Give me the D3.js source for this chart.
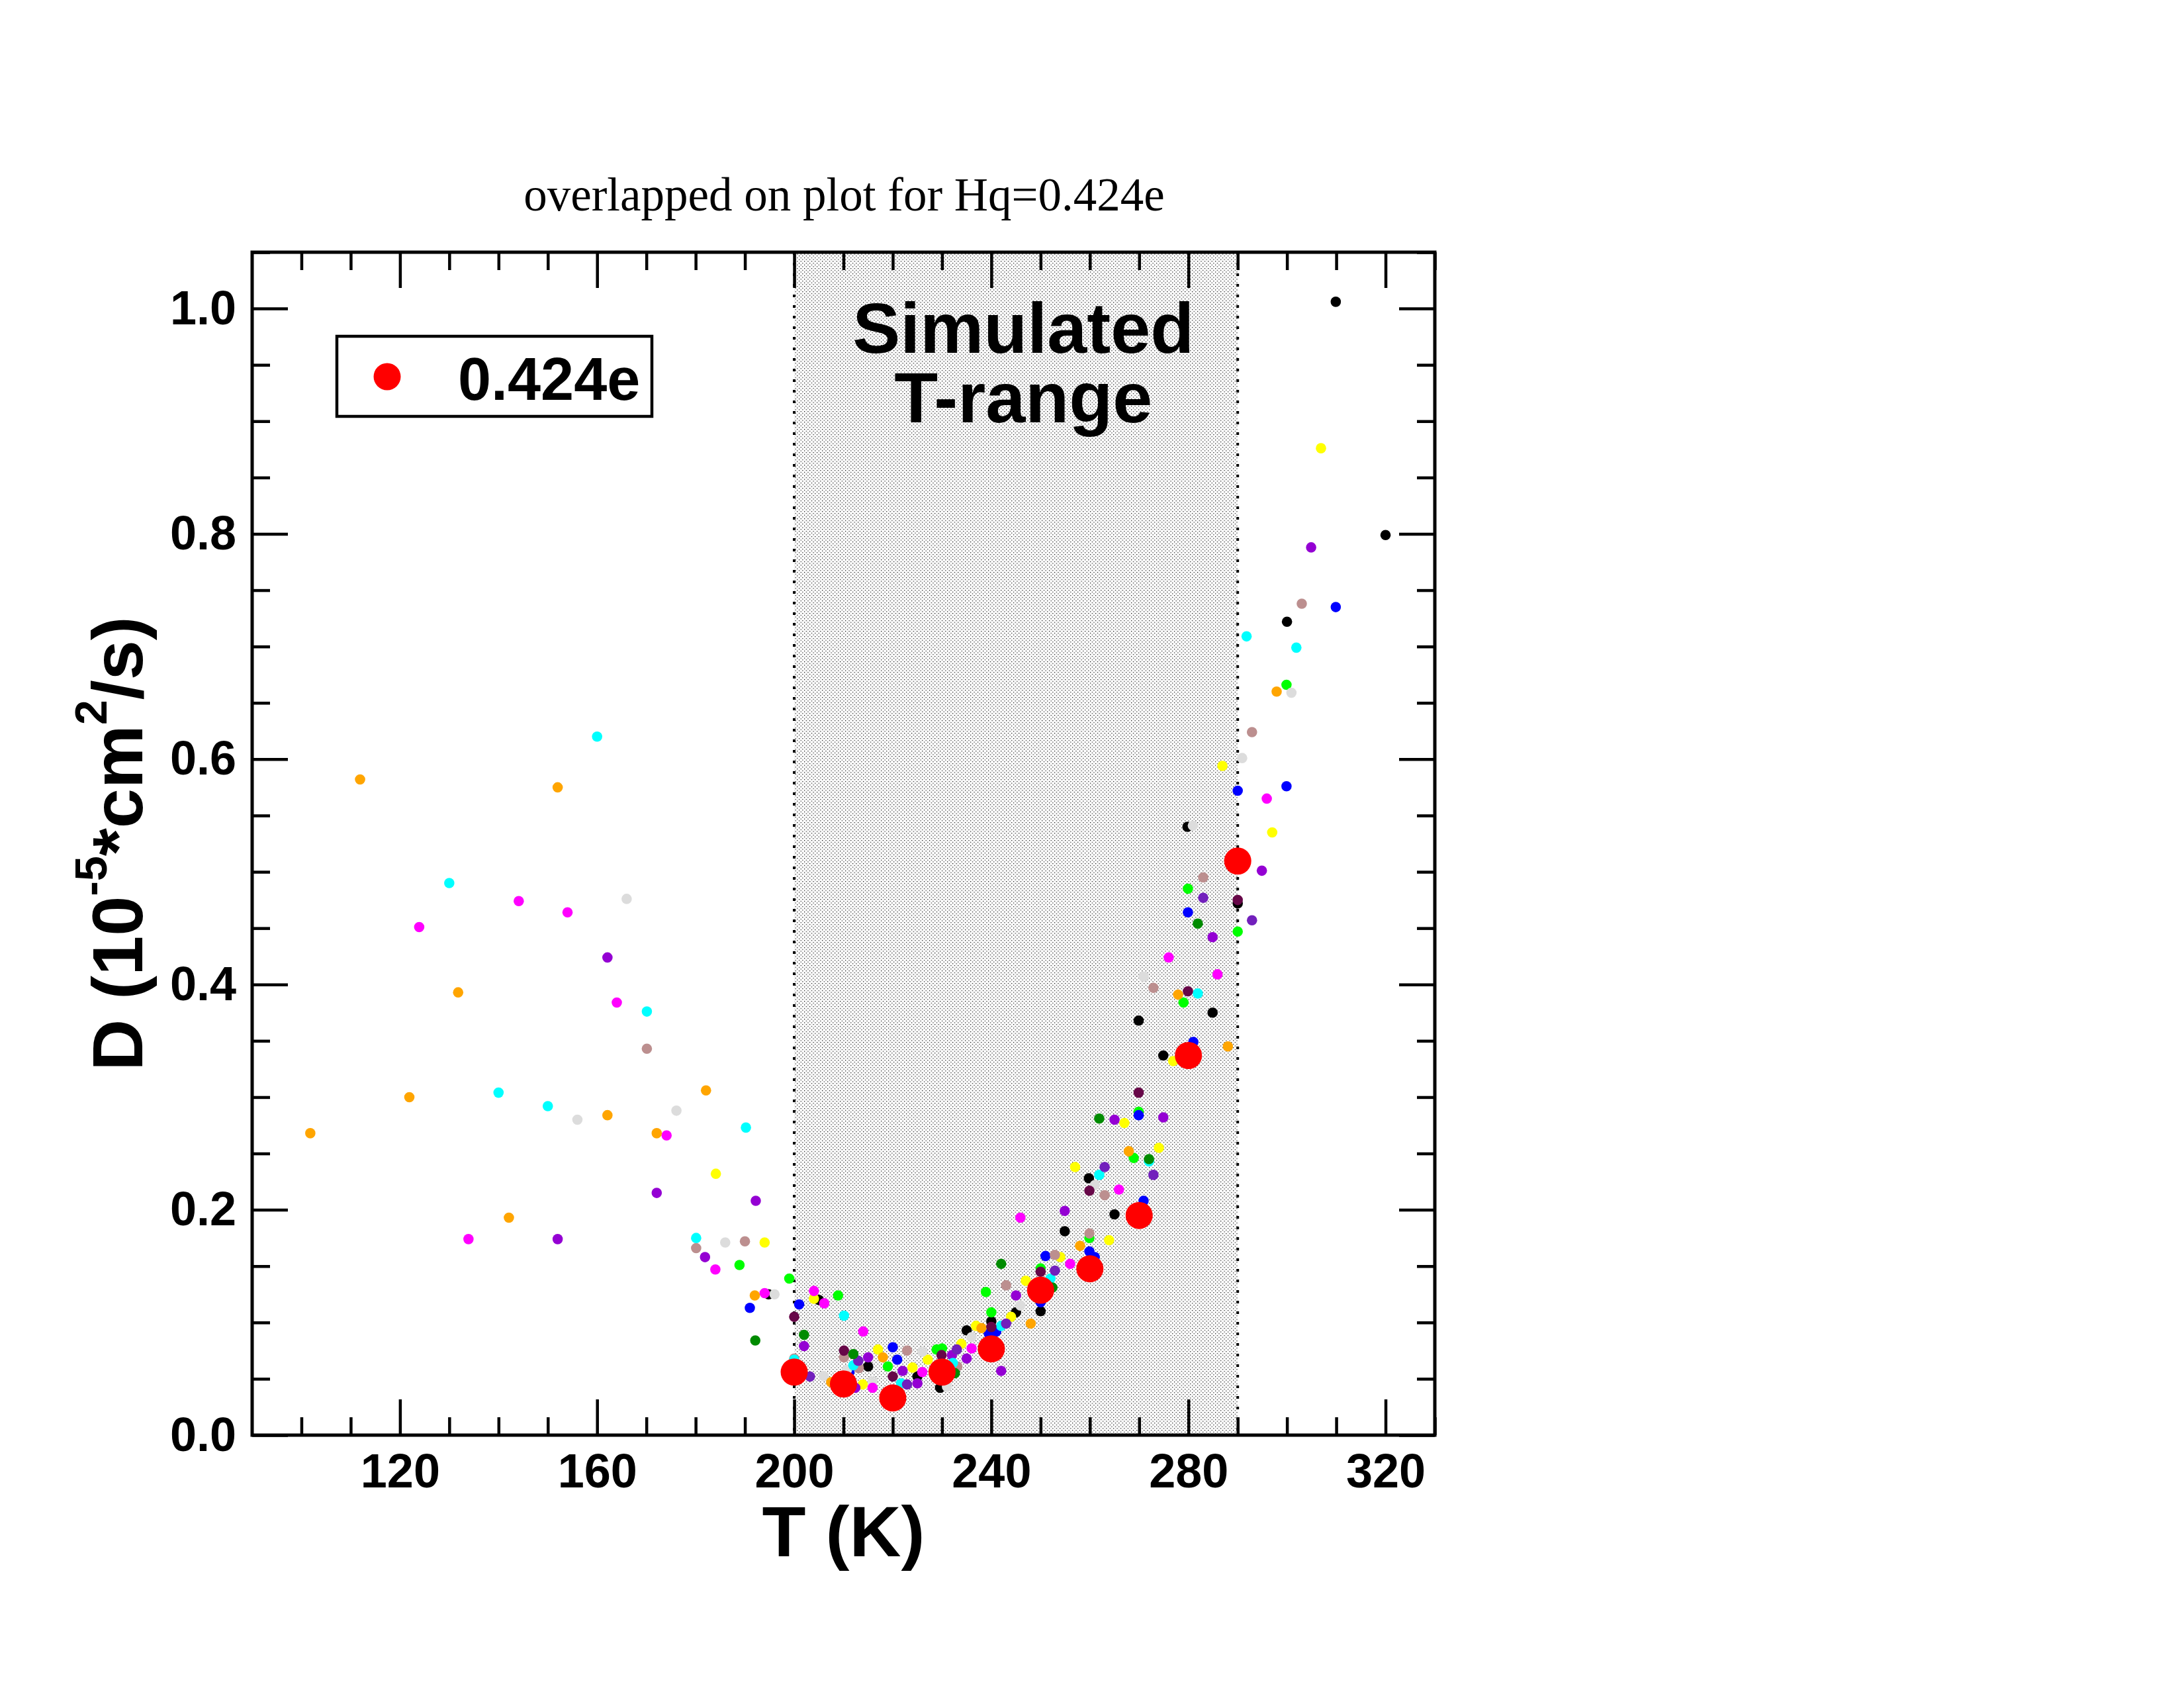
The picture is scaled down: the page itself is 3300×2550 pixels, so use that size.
<!DOCTYPE html>
<html>
<head>
<meta charset="utf-8">
<script src="https://cdn.jsdelivr.net/npm/d3@7"></script>
<style>
  body { margin: 0; background: #fff; }
  svg { display: block; }
</style>
</head>
<body>
<svg id="chart" width="3300" height="2550"></svg>
<script>
// ---- data: [T (K), D (1e-5 cm^2/s)] ----
var orangeSet = [[101.8,0.268],[111.9,0.582],[121.9,0.300],[131.8,0.393],[142.1,0.193],[152,0.575],[162.1,0.284],[172.1,0.268],[182.1,0.306],[192,0.124],[207.5,0.047],[218,0.069],[238,0.095],[248,0.099],[258,0.168],[267.9,0.252],[277.9,0.391],[288,0.345],[297.9,0.660]];
var cyanSet = [[130,0.490],[140,0.304],[150,0.292],[160,0.620],[170.1,0.376],[180.1,0.175],[190.2,0.273],[200,0.067],[210.1,0.106],[212,0.062],[221.7,0.046],[232.2,0.064],[242,0.097],[252,0.139],[261.9,0.231],[272,0.243],[281.9,0.392],[291.8,0.709],[301.9,0.699]];
var magentaSet = [[123.9,0.451],[133.9,0.174],[144.1,0.474],[154,0.464],[164,0.384],[174.1,0.266],[184,0.147],[194,0.126],[204,0.128],[206.1,0.117],[214,0.092],[215.9,0.042],[226,0.056],[236,0.077],[245.9,0.193],[256,0.152],[265.9,0.218],[276,0.424],[285.9,0.409],[295.9,0.565]];
var violetSet = [[152,0.174],[162.1,0.424],[172.1,0.215],[181.9,0.158],[192.2,0.208],[202,0.079],[212.4,0.042],[215,0.069],[222,0.057],[225,0.046],[232,0.071],[235,0.068],[242,0.057],[245,0.124],[254.9,0.199],[265,0.280],[274.9,0.282],[284.9,0.442],[294.9,0.501],[304.9,0.788]];
var greySet = [[156,0.280],[166,0.476],[176.1,0.288],[186,0.171],[196,0.125],[206,0.0525],[210.7,0.058],[215.9,0.048],[226,0.074],[231,0.043],[236,0.087],[245.9,0.115],[261,0.222],[270.9,0.407],[280.9,0.541],[290.9,0.601],[300.9,0.659]];
var brownSet = [[170.1,0.343],[180.1,0.166],[190,0.172],[200,0.068],[210.1,0.069],[213.1,0.0595],[222.9,0.075],[233.1,0.061],[243,0.133],[252.9,0.160],[259.9,0.179],[263,0.213],[272.9,0.397],[283,0.495],[292.9,0.624],[303,0.738]];
var yellowSet = [[184.1,0.232],[194,0.171],[204,0.121],[213.9,0.045],[217,0.076],[224,0.060],[227.1,0.067],[233.9,0.081],[236.9,0.097],[244,0.105],[247,0.137],[254,0.158],[257,0.238],[263.9,0.173],[267,0.277],[274,0.255],[276.9,0.332],[286.9,0.594],[297,0.535],[306.9,0.876]];
var greenSet = [[188.9,0.151],[199,0.139],[208.9,0.124],[219,0.061],[228.9,0.076],[230,0.077],[238.9,0.127],[240,0.109],[250,0.148],[259.9,0.175],[268.9,0.246],[269.9,0.287],[279,0.384],[279.9,0.485],[290,0.447],[299.9,0.666]];
var darkGreenSet = [[192.1,0.084],[202,0.089],[212,0.072],[232.6,0.055],[242,0.152],[252.4,0.131],[261.9,0.281],[272,0.245],[281.9,0.454]];
var blueSet = [[191,0.113],[201,0.116],[211.2,0.056],[220,0.078],[220.9,0.067],[239.5,0.090],[241,0.092],[250,0.118],[251,0.159],[259.9,0.163],[261,0.158],[269.9,0.284],[270.9,0.208],[279.9,0.464],[281,0.349],[290,0.572],[299.9,0.576],[309.9,0.735]];
var blackSet = [[194.8,0.125],[205,0.120],[215,0.061],[225,0.052],[229.6,0.042],[235,0.093],[240,0.101],[245,0.109],[250,0.110],[254.9,0.181],[259.8,0.228],[265,0.196],[269.9,0.368],[274.9,0.337],[279.8,0.540],[284.9,0.375],[290,0.472],[300,0.722],[309.9,1.006],[320,0.799]];
var maroonSet = [[200,0.105],[210.1,0.075],[220,0.052],[229.9,0.071],[240,0.096],[250,0.145],[259.9,0.217],[269.9,0.304],[279.9,0.394],[290,0.475]];
var indigoSet = [[203.2,0.052],[213,0.066],[222.9,0.045],[233,0.076],[243,0.099],[252.9,0.146],[263,0.238],[272.9,0.231],[283,0.477],[292.9,0.457]];
var turquoiseSet = [[198.5,0.056],[208.5,0.046],[218.5,0.033],[228.5,0.056],[238.5,0.077],[248.5,0.129],[258.5,0.148],[268.5,0.195],[278.5,0.337],[288.5,0.510]];
var hq424Set = [[200,0.056],[210,0.0454],[220,0.033],[230,0.056],[240,0.0766],[250,0.1287],[260,0.1477],[270,0.195],[280,0.337],[290,0.5096]];

var simRange = [200, 290];
var xMajorTicks = [120, 160, 200, 240, 280, 320];
var yMajorTicks = [0, 0.2, 0.4, 0.6, 0.8, 1.0];
var legendLabel = "0.424e";

// set order and xmgrace palette colours
var smallSets = [
  {data: blackSet, color: "#000000"},
  {data: greenSet, color: "#00ff00"},
  {data: blueSet, color: "#0000ff"},
  {data: yellowSet, color: "#ffff00"},
  {data: brownSet, color: "#bc8f8f"},
  {data: greySet, color: "#dcdcdc"},
  {data: violetSet, color: "#9400d3"},
  {data: cyanSet, color: "#00ffff"},
  {data: magentaSet, color: "#ff00ff"},
  {data: orangeSet, color: "#ffa500"},
  {data: indigoSet, color: "#7220bc"},
  {data: maroonSet, color: "#670748"},
  {data: turquoiseSet, color: "#40e0d0"},
  {data: darkGreenSet, color: "#008b00"}
];

var svg = d3.select("#chart");
var plotLeft = 381, plotTop = 381, plotW = 1787, plotH = 1787;
var sans = "'Liberation Sans', Arial, Helvetica, sans-serif";

var x = d3.scaleLinear().domain([90, 330]).range([plotLeft, plotLeft + plotW]);
var y = d3.scaleLinear().domain([0, 1.05]).range([plotTop + plotH, plotTop]);

svg.append("rect").attr("width", 3300).attr("height", 2550).attr("fill", "#fff");

// stipple for the simulated range
var pat = svg.append("defs").append("pattern")
    .attr("id", "stipple").attr("patternUnits", "userSpaceOnUse")
    .attr("width", 5.4).attr("height", 5.4);
pat.append("rect").attr("x", 0).attr("y", 0).attr("width", 1.2).attr("height", 1.2).attr("fill", "#000");
pat.append("rect").attr("x", 2.7).attr("y", 2.7).attr("width", 1.2).attr("height", 1.2).attr("fill", "#000");

svg.append("rect")
    .attr("x", x(simRange[0])).attr("y", plotTop)
    .attr("width", x(simRange[1]) - x(simRange[0])).attr("height", plotH)
    .attr("fill", "url(#stipple)");

svg.selectAll(".rangeLine").data(simRange).enter().append("line")
    .attr("class", "rangeLine")
    .attr("x1", function (d) { return x(d); }).attr("x2", function (d) { return x(d); })
    .attr("y1", plotTop).attr("y2", plotTop + plotH)
    .attr("stroke", "#000").attr("stroke-width", 4)
    .attr("stroke-dasharray", "4 12");

// annotation
var note = svg.append("text")
    .attr("text-anchor", "middle")
    .style("font-family", sans).style("font-weight", "bold").style("font-size", "108px");
note.append("tspan").attr("x", x(246.5)).attr("y", 533).text("Simulated");
note.append("tspan").attr("x", x(246.5)).attr("y", 638).text("T-range");

// small coloured points
smallSets.forEach(function (s) {
    svg.append("g").selectAll("circle").data(s.data).enter().append("circle")
        .attr("cx", function (d) { return x(d[0]); })
        .attr("cy", function (d) { return y(d[1]); })
        .attr("r", 7.8)
        .attr("fill", s.color);
});

// Hq = 0.424e on top
svg.append("g").selectAll("circle").data(hq424Set).enter().append("circle")
    .attr("cx", function (d) { return x(d[0]); })
    .attr("cy", function (d) { return y(d[1]); })
    .attr("r", 20.5)
    .attr("fill", "#ff0000");

// axes: ticks point inward on all four sides
function minorRange(a, b, step) {
    var out = [];
    for (var v = a; v <= b + 1e-9; v += step) out.push(+v.toFixed(3));
    return out;
}
var xMinor = minorRange(100, 330, 10).filter(function (v) { return xMajorTicks.indexOf(v) < 0; });
var yMinor = minorRange(0.05, 1.05, 0.05).filter(function (v) {
    return !yMajorTicks.some(function (m) { return Math.abs(m - v) < 1e-6; });
});

function styleAxis(g) {
    g.select(".domain").remove();
    g.selectAll(".tick line").attr("stroke", "#000").attr("stroke-width", 4.5);
    g.selectAll(".tick text")
        .style("font-family", sans).style("font-weight", "bold")
        .style("font-size", "72px").attr("fill", "#000");
}

var bottomY = plotTop + plotH, rightX = plotLeft + plotW;

svg.append("g").attr("transform", "translate(0," + bottomY + ")")
    .call(d3.axisBottom(x).tickValues(xMajorTicks).tickSize(-54).tickSizeOuter(0).tickPadding(28).tickFormat(d3.format("d")))
    .call(styleAxis);
svg.append("g").attr("transform", "translate(0," + bottomY + ")")
    .call(d3.axisBottom(x).tickValues(xMinor).tickSize(-27).tickSizeOuter(0).tickFormat(""))
    .call(styleAxis);
svg.append("g").attr("transform", "translate(0," + plotTop + ")")
    .call(d3.axisTop(x).tickValues(xMajorTicks).tickSize(-54).tickSizeOuter(0).tickFormat(""))
    .call(styleAxis);
svg.append("g").attr("transform", "translate(0," + plotTop + ")")
    .call(d3.axisTop(x).tickValues(xMinor).tickSize(-27).tickSizeOuter(0).tickFormat(""))
    .call(styleAxis);

svg.append("g").attr("transform", "translate(" + plotLeft + ",0)")
    .call(d3.axisLeft(y).tickValues(yMajorTicks).tickSize(-54).tickSizeOuter(0).tickPadding(24).tickFormat(d3.format(".1f")))
    .call(styleAxis);
svg.append("g").attr("transform", "translate(" + plotLeft + ",0)")
    .call(d3.axisLeft(y).tickValues(yMinor).tickSize(-27).tickSizeOuter(0).tickFormat(""))
    .call(styleAxis);
svg.append("g").attr("transform", "translate(" + rightX + ",0)")
    .call(d3.axisRight(y).tickValues(yMajorTicks).tickSize(-54).tickSizeOuter(0).tickFormat(""))
    .call(styleAxis);
svg.append("g").attr("transform", "translate(" + rightX + ",0)")
    .call(d3.axisRight(y).tickValues(yMinor).tickSize(-27).tickSizeOuter(0).tickFormat(""))
    .call(styleAxis);

svg.append("rect")
    .attr("x", plotLeft).attr("y", plotTop).attr("width", plotW).attr("height", plotH)
    .attr("fill", "none").attr("stroke", "#000").attr("stroke-width", 5);

// legend
svg.append("rect")
    .attr("x", 509).attr("y", 508).attr("width", 476).attr("height", 121)
    .attr("fill", "#fff").attr("stroke", "#000").attr("stroke-width", 4.5);
svg.append("circle").attr("cx", 585).attr("cy", 569).attr("r", 20.5).attr("fill", "#ff0000");
svg.append("text").attr("x", 692).attr("y", 604)
    .style("font-family", sans).style("font-weight", "bold").style("font-size", "90px")
    .text(legendLabel);

// titles
svg.append("text")
    .attr("x", plotLeft + plotW / 2 + 1).attr("y", 318).attr("text-anchor", "middle")
    .style("font-family", "'Liberation Serif', 'Times New Roman', serif").style("font-size", "71px")
    .text("overlapped on plot for Hq=0.424e");

svg.append("text")
    .attr("x", plotLeft + plotW / 2).attr("y", 2351).attr("text-anchor", "middle")
    .style("font-family", sans).style("font-weight", "bold").style("font-size", "108px")
    .text("T (K)");

var yt = svg.append("text")
    .attr("transform", "translate(215," + (plotTop + plotH / 2) + ") rotate(-90)")
    .attr("text-anchor", "middle")
    .style("font-family", sans).style("font-weight", "bold").style("font-size", "108px");
yt.append("tspan").text("D (10");
yt.append("tspan").attr("dy", -54).style("font-size", "68px").text("-5");
yt.append("tspan").attr("dy", 54).text("*cm");
yt.append("tspan").attr("dy", -54).style("font-size", "68px").text("2");
yt.append("tspan").attr("dy", 54).text("/s)");
</script>
</body>
</html>
